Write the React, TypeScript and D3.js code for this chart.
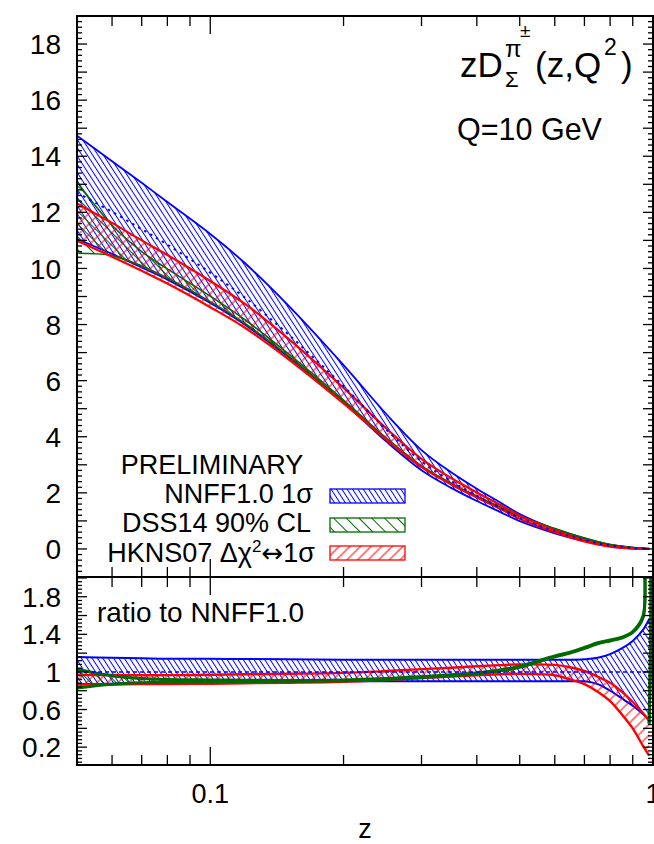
import * as d3 from "d3";
import { useEffect, useRef } from "react";

const W = 654;
const H = 844;
const FONT = "'Liberation Sans', Arial, Helvetica, sans-serif";

const BLUE = "#0000ff";
const GREEN = "#006a00";
const RED = "#ff0000";

// z grid shared by every curve
const zGrid = [0.05, 0.06, 0.07, 0.08, 0.1, 0.12, 0.15, 0.2, 0.25, 0.3, 0.35, 0.4, 0.45, 0.5, 0.6, 0.65, 0.7, 0.75, 0.8, 0.85, 0.9, 0.95, 0.98];
// NNFF1.0 central value zD(z)
const nnffCentral = [12.7, 12.02, 11.4, 10.85, 9.85, 8.95, 7.65, 5.8, 4.25, 3.12, 2.42, 1.9, 1.48, 1.1, 0.62, 0.45, 0.31, 0.2, 0.12, 0.07, 0.035, 0.012, 0.004];
// band edges as ratio to NNFF1.0 central
const nnffUp = [1.16, 1.15, 1.145, 1.14, 1.14, 1.137, 1.135, 1.13, 1.13, 1.13, 1.13, 1.13, 1.13, 1.13, 1.13, 1.13, 1.135, 1.15, 1.19, 1.25, 1.33, 1.45, 1.56];
const nnffLo = [0.87, 0.875, 0.88, 0.885, 0.89, 0.892, 0.895, 0.9, 0.9, 0.9, 0.9, 0.9, 0.9, 0.9, 0.9, 0.9, 0.9, 0.87, 0.8, 0.72, 0.64, 0.55, 0.49];
const dssUp = [1.03, 0.96, 0.93, 0.92, 0.915, 0.912, 0.91, 0.915, 0.93, 0.95, 0.97, 0.99, 1.02, 1.06, 1.17, 1.21, 1.26, 1.31, 1.34, 1.37, 1.43, 1.6, 0.45];
const dssLo = [0.83, 0.87, 0.885, 0.89, 0.895, 0.897, 0.9, 0.905, 0.92, 0.94, 0.96, 0.98, 1.01, 1.05, 1.16, 1.2, 1.25, 1.3, 1.33, 1.36, 1.42, 1.58, 0.45];
const hknsUp = [0.97, 0.967, 0.965, 0.966, 0.97, 0.975, 0.98, 0.99, 1.01, 1.03, 1.045, 1.06, 1.072, 1.08, 1.075, 1.05, 1.01, 0.95, 0.885, 0.79, 0.68, 0.56, 0.48];
const hknsLo = [0.865, 0.867, 0.87, 0.872, 0.875, 0.88, 0.885, 0.895, 0.915, 0.935, 0.95, 0.965, 0.975, 0.98, 0.965, 0.92, 0.87, 0.79, 0.69, 0.55, 0.4, 0.21, 0.11];
// DSS14 ratio blows up just before z=1
const dssSpikeZ = [0.96, 0.972];
const dssSpikeRatio = [2.6, 2.6];

const topLabels = [0, 2, 4, 6, 8, 10, 12, 14, 16, 18];
const ratioLabels = [0.2, 0.6, 1, 1.4, 1.8];
const xMajor = [0.1, 1];
const xMinor = [0.06, 0.07, 0.08, 0.09, 0.2, 0.3, 0.4, 0.5, 0.6, 0.7, 0.8, 0.9];

const legendNames = ["NNFF1.0 1σ", "DSS14 90% CL", "HKNS07"];

export default function App() {
  const svgRef = useRef<SVGSVGElement>(null);

  useEffect(() => {
    const svg = d3.select(svgRef.current);
    svg.selectAll("*").remove();

    const L = 77, R = 653, T = 16, M = 577, B = 765;
    const x = d3.scaleLog().domain([0.05, 1]).range([L, R]);
    const yTop = d3.scaleLinear().domain([-1, 19]).range([M, T]);
    const yBot = d3.scaleLinear().domain([0.01, 2.01]).range([B, M]);
    const curve = d3.curveCatmullRom.alpha(0.5);

    svg.append("rect").attr("width", W).attr("height", H).attr("fill", "#fff");

    const defs = svg.append("defs");
    const hatch = (id: string, color: string, size: number, angle: number) => {
      const p = defs
        .append("pattern")
        .attr("id", id)
        .attr("patternUnits", "userSpaceOnUse")
        .attr("width", size)
        .attr("height", size)
        .attr("patternTransform", `rotate(${angle})`);
      p.append("line")
        .attr("x1", size / 2)
        .attr("x2", size / 2)
        .attr("y1", 0)
        .attr("y2", size)
        .attr("stroke", color)
        .attr("stroke-width", 1);
    };
    hatch("hatchBlue", BLUE, 4.5, -33);
    hatch("hatchGreen", GREEN, 9, -45);
    hatch("hatchRed", RED, 7.5, 45);

    defs.append("clipPath").attr("id", "clipTop").append("rect")
      .attr("x", L).attr("y", T).attr("width", R - L).attr("height", M - T);
    defs.append("clipPath").attr("id", "clipBot").append("rect")
      .attr("x", L).attr("y", M).attr("width", R - L).attr("height", B - M);

    const series = [
      { up: nnffUp, lo: nnffLo, color: BLUE, fill: "url(#hatchBlue)", wTop: 1.8, wBot: 2 },
      { up: dssUp, lo: dssLo, color: GREEN, fill: "url(#hatchGreen)", wTop: 1.6, wBot: 3 },
      { up: hknsUp, lo: hknsLo, color: RED, fill: "url(#hatchRed)", wTop: 2.2, wBot: 2.4 },
    ];

    type P = { z: number; lo: number; hi: number };

    const drawBand = (g: any, pts: P[], y: any, s: any, w: number) => {
      const area = d3.area<P>().x((d) => x(d.z)).y0((d) => y(d.lo)).y1((d) => y(d.hi)).curve(curve);
      g.append("path").attr("d", area(pts)).attr("fill", s.fill).attr("stroke", "none");
      const lineLo = d3.line<P>().x((d) => x(d.z)).y((d) => y(d.lo)).curve(curve);
      const lineHi = d3.line<P>().x((d) => x(d.z)).y((d) => y(d.hi)).curve(curve);
      g.append("path").attr("d", lineLo(pts)).attr("fill", "none").attr("stroke", s.color).attr("stroke-width", w);
      g.append("path").attr("d", lineHi(pts)).attr("fill", "none").attr("stroke", s.color).attr("stroke-width", w);
    };

    // ---- top panel
    const gTop = svg.append("g").attr("clip-path", "url(#clipTop)");
    [0, 1, 2].forEach((k) => {
      const s = series[k];
      const pts = zGrid.map((z, i) => ({ z, lo: nnffCentral[i] * s.lo[i], hi: nnffCentral[i] * s.up[i] }));
      drawBand(gTop, pts, yTop, s, s.wTop);
    });
    gTop.append("path")
      .attr("d", d3.line<number>().x((d, i) => x(zGrid[i])).y((d) => yTop(d)).curve(curve)(nnffCentral))
      .attr("fill", "none").attr("stroke", BLUE).attr("stroke-width", 2).attr("stroke-dasharray", "2.5 4.5");

    // ---- ratio panel
    const gBot = svg.append("g").attr("clip-path", "url(#clipBot)");
    [0, 2, 1].forEach((k) => {
      const s = series[k];
      let pts: P[] = zGrid.map((z, i) => ({ z, lo: s.lo[i], hi: s.up[i] }));
      if (k === 1) {
        const spike = dssSpikeZ.map((z, i) => ({ z, lo: dssSpikeRatio[i], hi: dssSpikeRatio[i] }));
        pts = [...pts.slice(0, -1), ...spike, pts[pts.length - 1]];
      }
      drawBand(gBot, pts, yBot, s, s.wBot);
    });
    gBot.append("line")
      .attr("x1", L).attr("x2", R).attr("y1", yBot(1)).attr("y2", yBot(1))
      .attr("stroke", BLUE).attr("stroke-width", 1.5).attr("stroke-dasharray", "4 3");

    // ---- ticks
    const axes = svg.append("g").attr("stroke", "#000").attr("stroke-width", 1.3);
    for (let k = -5; k <= 95; k++) {
      const v = k * 0.2;
      const len = k % 5 === 0 ? 10 : 5;
      const yy = yTop(v);
      axes.append("line").attr("x1", L).attr("x2", L + len).attr("y1", yy).attr("y2", yy);
      axes.append("line").attr("x1", R).attr("x2", R - len).attr("y1", yy).attr("y2", yy);
    }
    for (let k = 1; k <= 50; k++) {
      const v = k * 0.04;
      const len = k % 5 === 0 ? 10 : 5;
      const yy = yBot(v);
      axes.append("line").attr("x1", L).attr("x2", L + len).attr("y1", yy).attr("y2", yy);
      axes.append("line").attr("x1", R).attr("x2", R - len).attr("y1", yy).attr("y2", yy);
    }
    const xTick = (z: number, len: number) => {
      const xx = x(z);
      axes.append("line").attr("x1", xx).attr("x2", xx).attr("y1", T).attr("y2", T + len);
      axes.append("line").attr("x1", xx).attr("x2", xx).attr("y1", M).attr("y2", M - len);
      axes.append("line").attr("x1", xx).attr("x2", xx).attr("y1", M).attr("y2", M + len);
      axes.append("line").attr("x1", xx).attr("x2", xx).attr("y1", B).attr("y2", B - len);
    };
    xMinor.forEach((z) => xTick(z, 10));
    xMajor.forEach((z) => xTick(z, 18));

    // frames
    svg.append("rect").attr("x", L).attr("y", T).attr("width", R - L).attr("height", M - T)
      .attr("fill", "none").attr("stroke", "#000").attr("stroke-width", 2);
    svg.append("rect").attr("x", L).attr("y", M).attr("width", R - L).attr("height", B - M)
      .attr("fill", "none").attr("stroke", "#000").attr("stroke-width", 2);

    // tick labels
    const txt = svg.append("g").attr("font-family", FONT).attr("fill", "#000");
    topLabels.forEach((v) => {
      txt.append("text").attr("x", L - 16).attr("y", yTop(v)).attr("dy", "0.36em")
        .attr("text-anchor", "end").attr("font-size", 28).text(v);
    });
    ratioLabels.forEach((v) => {
      txt.append("text").attr("x", L - 16).attr("y", yBot(v)).attr("dy", "0.36em")
        .attr("text-anchor", "end").attr("font-size", 28).text(v);
    });
    xMajor.forEach((z) => {
      txt.append("text").attr("x", x(z)).attr("y", 803).attr("text-anchor", "middle")
        .attr("font-size", 27).text(z);
    });
    txt.append("text").attr("x", (L + R) / 2).attr("y", 838).attr("text-anchor", "middle")
      .attr("font-size", 27).text("z");

    // title
    txt.append("text").attr("x", 460).attr("y", 77).attr("font-size", 35).text("zD");
    txt.append("text").attr("x", 505).attr("y", 57).attr("font-size", 24).text("π");
    txt.append("text").attr("x", 520).attr("y", 37).attr("font-size", 19).text("±");
    txt.append("text").attr("x", 505).attr("y", 87).attr("font-size", 22).text("Σ");
    txt.append("text").attr("x", 535).attr("y", 77).attr("font-size", 35).text("(z,Q");
    txt.append("text").attr("x", 604).attr("y", 55).attr("font-size", 23).text("2");
    txt.append("text").attr("x", 621).attr("y", 77).attr("font-size", 35).text(")");
    txt.append("text").attr("x", 457).attr("y", 140).attr("font-size", 30.5).text("Q=10 GeV");

    txt.append("text").attr("x", 97).attr("y", 622).attr("font-size", 28).text("ratio to NNFF1.0");

    // legend
    txt.append("text").attr("x", 212).attr("y", 474).attr("text-anchor", "middle")
      .attr("font-size", 27).text("PRELIMINARY");
    const legY = [489, 518, 546];
    series.forEach((s, i) => {
      svg.append("rect").attr("x", 330).attr("y", legY[i]).attr("width", 75).attr("height", 14)
        .attr("fill", s.fill).attr("stroke", s.color).attr("stroke-width", 1.3);
    });
    txt.append("text").attr("x", 313).attr("y", 503).attr("text-anchor", "end")
      .attr("font-size", 27).text(legendNames[0]);
    txt.append("text").attr("x", 311).attr("y", 532).attr("text-anchor", "end")
      .attr("font-size", 27).text(legendNames[1]);
    const hk = txt.append("text").attr("x", 315).attr("y", 562).attr("text-anchor", "end")
      .attr("font-size", 27);
    hk.append("tspan").text(legendNames[2] + " Δχ");
    hk.append("tspan").attr("dy", -10).attr("font-size", 17).text("2");
    hk.append("tspan").attr("dy", 10).attr("font-family", "'DejaVu Sans', sans-serif")
      .attr("font-size", 26).text("↔");
    hk.append("tspan").text("1σ");
  }, []);

  return (
    <svg
      ref={svgRef}
      width={W}
      height={H}
      style={{ position: "absolute", left: 0, top: 0, display: "block" }}
    />
  );
}
